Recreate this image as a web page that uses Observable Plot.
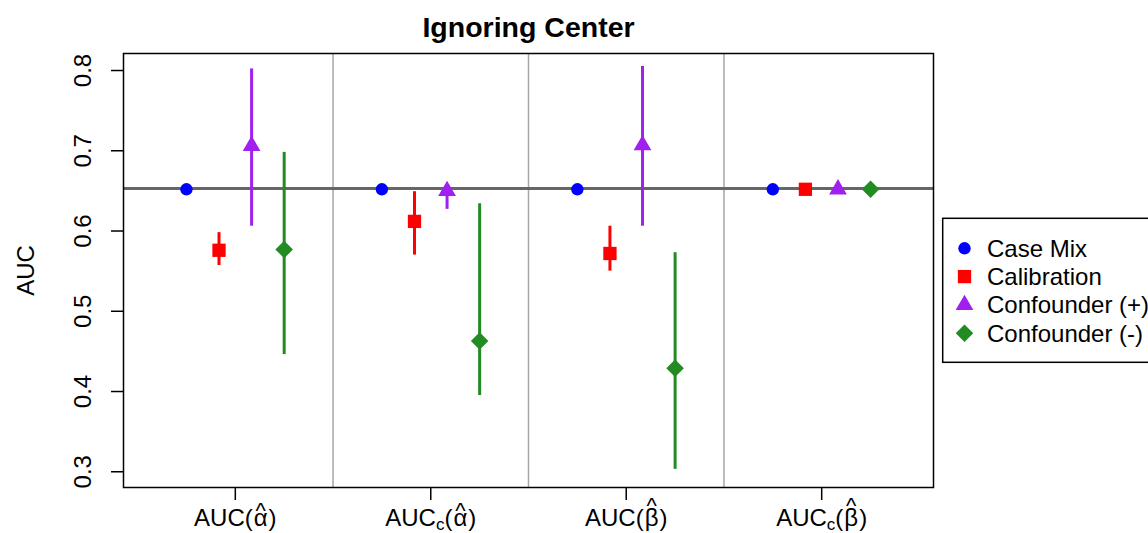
<!DOCTYPE html>
<html>
<head>
<meta charset="utf-8">
<script src="https://cdn.jsdelivr.net/npm/d3@7"></script>
<script src="https://cdn.jsdelivr.net/npm/@observablehq/plot@0.6"></script>
<style>
  html, body { margin: 0; padding: 0; background: #fff; }
  #wrap { position: relative; width: 1148px; height: 533px; overflow: hidden; }
</style>
</head>
<body>
<div id="wrap"></div>
<script>
// ---------------- data ----------------
const groups = ["AUC(α̂)", "AUC_c(α̂)", "AUC(β̂)", "AUC_c(β̂)"];
const methods = ["Case Mix", "Calibration", "Confounder (+)", "Confounder (-)"];
const reference = 0.653;
const yTicks = [0.3, 0.4, 0.5, 0.6, 0.7, 0.8];

const caseMixEst = [0.652, 0.652, 0.652, 0.652];
const caseMixLo  = [null, null, null, null];
const caseMixHi  = [null, null, null, null];

const calibrationEst = [0.576, 0.612, 0.572, 0.652];
const calibrationLo  = [0.557, 0.570, 0.550, null];
const calibrationHi  = [0.598, 0.649, 0.606, null];

const confPlusEst = [0.706, 0.650, 0.707, 0.652];
const confPlusLo  = [0.606, 0.627, 0.606, null];
const confPlusHi  = [0.802, 0.658, 0.805, null];

const confMinusEst = [0.577, 0.463, 0.429, 0.652];
const confMinusLo  = [0.446, 0.395, 0.303, null];
const confMinusHi  = [0.698, 0.634, 0.573, null];

// ---------------- styles ----------------
const colors = ["#0000FF", "#FF0000", "#A020F0", "#228B22"];
const diamond = d3.symbolDiamond2 || {draw(c, size) { const r = Math.sqrt(size) * 0.62625; c.moveTo(0, -r); c.lineTo(r, 0); c.lineTo(0, r); c.lineTo(-r, 0); c.closePath(); }};
const symbols = [d3.symbolCircle, d3.symbolSquare, d3.symbolTriangle, diamond];
const radii = [6.2, 7.5, 6.6, 7.9];
const FONT = "'Liberation Sans', Arial, Helvetica, sans-serif";

const est = [caseMixEst, calibrationEst, confPlusEst, confMinusEst];
const lo = [caseMixLo, calibrationLo, confPlusLo, confMinusLo];
const hi = [caseMixHi, calibrationHi, confPlusHi, confMinusHi];

const rows = [];
methods.forEach((m, mi) => groups.forEach((g, gi) => rows.push({
  method: m, mi, group: g, gi,
  pos: gi + 1 + (mi - (methods.length - 1) / 2) / 6,
  value: est[mi][gi], lo: lo[mi][gi], hi: hi[mi][gi]
})));

const separators = d3.range(1, groups.length).map(i => i + 0.5);

const marks = [
  Plot.ruleX(separators, {stroke: "#a6a6a6", strokeWidth: 1.5}),
  Plot.ruleY([reference], {stroke: "#666666", strokeWidth: 3}),
  Plot.frame({stroke: "#000", strokeWidth: 1.5}),
  Plot.axisX({ticks: groups.map((g, i) => i + 1), tickSize: 13, tickFormat: () => "", label: null, strokeWidth: 1.5}),
  Plot.axisY({ticks: yTicks, tickSize: 12, tickFormat: () => "", label: null, strokeWidth: 1.5}),
  Plot.text(yTicks, {y: d => d, text: d => d.toFixed(1), frameAnchor: "left", textAnchor: "middle", dx: -33, rotate: -90, lineAnchor: "bottom", fontSize: 24, fill: "#000"}),
  Plot.text(groups, {x: (d, i) => i + 1, text: d => d, frameAnchor: "bottom", textAnchor: "middle", dy: 38, lineAnchor: "bottom", fontSize: 24, fill: "#000"}),
  Plot.text(["AUC"], {text: d => d, frameAnchor: "left", textAnchor: "middle", dx: -90, rotate: -90, lineAnchor: "bottom", fontSize: 24, fill: "#000"}),
  Plot.text(["Ignoring Center"], {text: d => d, frameAnchor: "top", textAnchor: "middle", dy: -17, lineAnchor: "bottom", fontSize: 28.5, fontWeight: "bold", fill: "#000"})
];
methods.forEach((m, mi) => {
  const sub = rows.filter(r => r.mi === mi);
  marks.push(Plot.ruleX(sub.filter(r => r.lo != null), {x: "pos", y1: "lo", y2: "hi", stroke: colors[mi], strokeWidth: 3}));
});
methods.forEach((m, mi) => {
  const sub = rows.filter(r => r.mi === mi);
  marks.push(Plot.dot(sub, {x: "pos", y: "value", symbol: symbols[mi], fill: colors[mi], r: radii[mi]}));
});

const chart = Plot.plot({
  width: 1148, height: 533,
  marginLeft: 123, marginRight: 215, marginTop: 53, marginBottom: 46,
  x: {domain: [0.428, 4.572]},
  y: {domain: [0.2804, 0.8212]},
  style: {fontFamily: FONT, fontSize: "24px", background: "#fff", color: "#000", overflow: "visible"},
  marks
});
document.getElementById("wrap").append(chart);

const svg = d3.select(chart);

// x tick labels: subscript c and a hat over the Greek letter, all in one text element
svg.selectAll("text").filter(function () {
  return /^AUC(_c)?\(.\u0302\)$/.test(this.textContent);
}).each(function () {
  const el = this, t = d3.select(el);
  const m = el.textContent.match(/^(AUC)(_c)?\((.)\u0302\)$/);
  if (!m) return;
  t.text(null);
  t.append("tspan").text(m[1]);
  if (m[2]) {
    t.append("tspan").attr("font-size", "17px").attr("dy", 4).text("c");
    t.append("tspan").attr("dy", -4).text("(");
  } else {
    t.append("tspan").text("(");
  }
  const g = t.append("tspan").attr("dx", 1).text(m[3]);
  const lift = m[3] === "β" ? 13 : 8;
  const hat = t.append("tspan").attr("font-size", "22px").text("^");
  const close = t.append("tspan").text(")");
  const gw = g.node().getComputedTextLength();
  const hw = hat.node().getComputedTextLength();
  hat.attr("dx", -(gw + hw) / 2).attr("dy", -lift);
  close.attr("dx", (gw - hw) / 2 + 1).attr("dy", lift);
});

// legend
const lg = svg.append("g").attr("font-family", FONT).attr("font-size", 24).attr("text-anchor", "start");
lg.append("rect").attr("x", 942.7).attr("y", 218.3).attr("width", 300).attr("height", 144)
  .attr("fill", "#fff").attr("stroke", "#000").attr("stroke-width", 1.5);
methods.forEach((m, mi) => {
  const cy = 248.3 + mi * 28.3;
  lg.append("path").attr("transform", `translate(964.5,${cy})`)
    .attr("d", d3.symbol(symbols[mi], Math.PI * radii[mi] * radii[mi])())
    .attr("fill", colors[mi]);
  lg.append("text").attr("x", 987).attr("y", cy + 8.5).attr("fill", "#000").attr("text-anchor", "start").text(m);
});
</script>
</body>
</html>
